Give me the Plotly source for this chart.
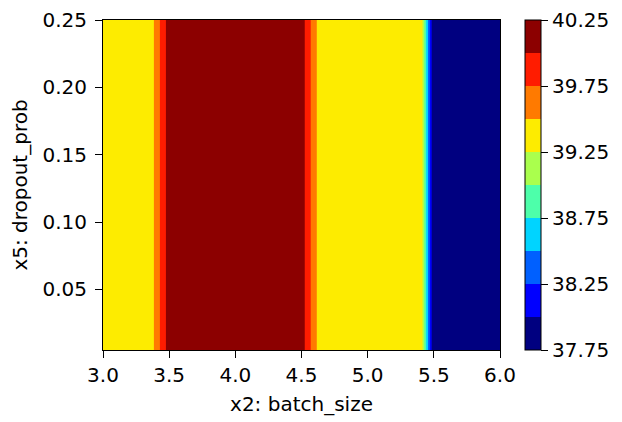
import plotly.graph_objects as go

# Data
batch_size = [3.0, 3.37, 3.49, 4.51, 4.63, 5.405, 5.492, 6.0]
objective = [39.42, 39.42, 40.08, 40.08, 39.42, 39.42, 37.85, 37.85]
dropout_prob = [0.005, 0.25]
level_start, level_end, level_step = 37.75, 40.25, 0.25
cbar_ticks = [37.75, 38.25, 38.75, 39.25, 39.75, 40.25]
x_ticks = [3.0, 3.5, 4.0, 4.5, 5.0, 5.5, 6.0]
y_ticks = [0.05, 0.10, 0.15, 0.20, 0.25]

band_colors = ["#000080", "#0000FF", "#0060FF", "#00D4FF", "#4DFFAA",
               "#AAFF4D", "#FDEC00", "#FF7A00", "#FF1C00", "#8C0000"]

# piecewise-constant colorscale matching plotly's contour fill mapping
n_levels = int(round((level_end - level_start) / level_step)) + 1  # 11
den = n_levels
colors_ext = [band_colors[0]] + band_colors + [band_colors[-1]]
cs = []
for k, c in enumerate(colors_ext):
    lo = 0.0 if k == 0 else (k - 0.5) / den
    hi = 1.0 if k == len(colors_ext) - 1 else (k + 0.5) / den
    lo = max(0.0, min(1.0, lo)); hi = max(0.0, min(1.0, hi))
    cs.append([lo, c]); cs.append([hi, c])

z = [objective for _ in dropout_prob]

font = dict(family="DejaVu Sans", size=20, color="black")

fig = go.Figure(go.Contour(
    x=batch_size, y=dropout_prob, z=z,
    colorscale=cs,
    contours=dict(start=level_start, end=level_end, size=level_step, coloring="fill"),
    line=dict(width=0),
    zmin=level_start, zmax=level_end,
    colorbar=dict(
        x=1.0627, xanchor="left", y=0.5, yanchor="middle", len=1.0, lenmode="fraction",
        thickness=16, outlinewidth=1, outlinecolor="black",
        tickvals=cbar_ticks, ticktext=[f"{v:.2f}" for v in cbar_ticks],
        ticks="outside", ticklen=7, tickcolor="black", tickwidth=1,
        tickfont=font, xpad=0, ypad=0,
    ),
))

# the page body adds an 8px offset, so the figure is 8px smaller than the window
fig.update_layout(
    width=614, height=414,
    margin=dict(l=95, r=120, t=12, b=72),
    paper_bgcolor="white", plot_bgcolor="white",
    font=font,
    xaxis=dict(range=[3.0, 6.0], tickvals=x_ticks, ticktext=[f"{v:.1f}" for v in x_ticks],
               showline=True, linecolor="black", linewidth=1, mirror=True,
               ticks="outside", ticklen=7, tickcolor="black", showgrid=False, zeroline=False,
               automargin=False,
               title=dict(text="x2: batch_size", font=font, standoff=10)),
    yaxis=dict(range=[dropout_prob[0], dropout_prob[1]], tickvals=y_ticks,
               ticktext=[f"{v:.2f}" for v in y_ticks],
               showline=True, linecolor="black", linewidth=1, mirror=True,
               ticks="outside", ticklen=7, tickcolor="black", showgrid=False, zeroline=False,
               automargin=False, ticklabelstandoff=4,
               title=dict(text="x5: dropout_prob", font=font, standoff=16)),
)

fig.write_html("out.html")
